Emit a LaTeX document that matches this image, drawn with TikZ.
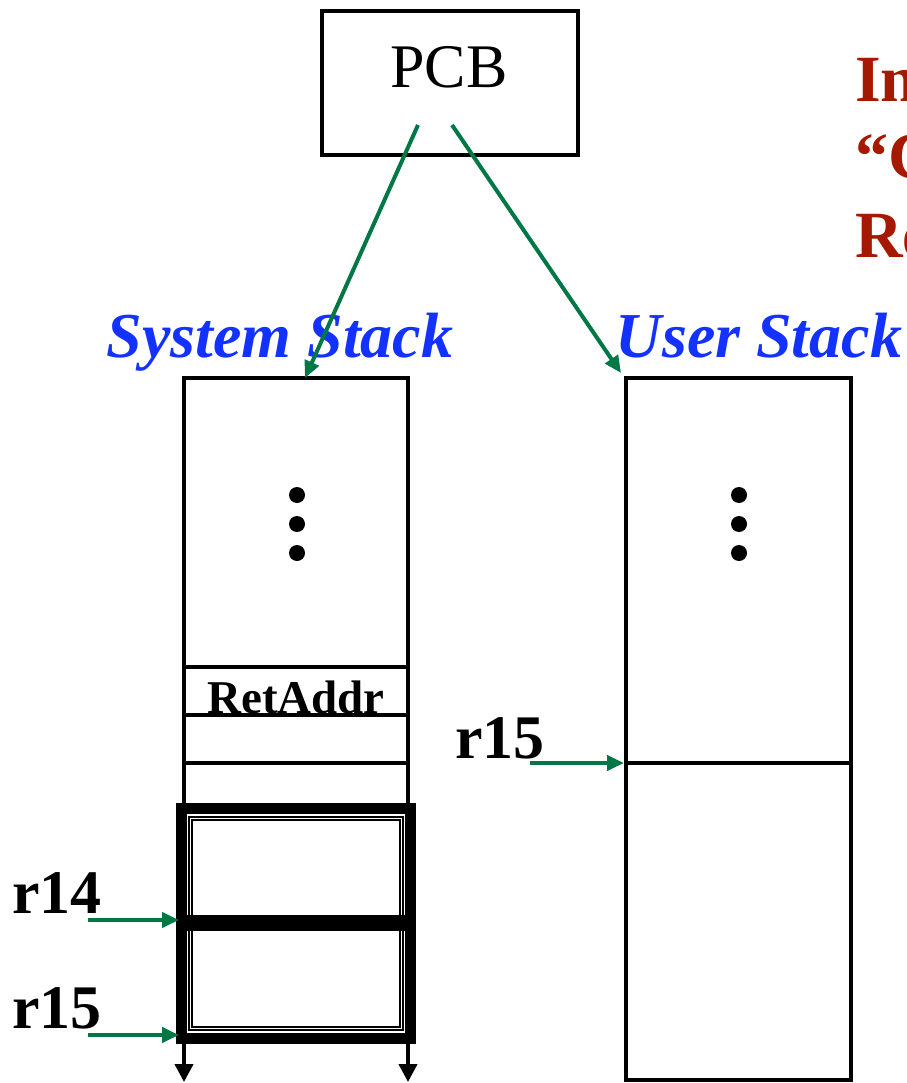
\documentclass[tikz,border=0pt]{standalone}
\usepackage{fontspec}
\setmainfont{Liberation Serif}
\usetikzlibrary{arrows.meta,calc}
\definecolor{arrgreen}{RGB}{0,120,70}
\definecolor{stblue}{RGB}{20,50,255}
\definecolor{dred}{RGB}{165,25,0}
\tikzset{
  stackline/.style={line width=4.5pt, black},
  garrow/.style={line width=4pt, arrgreen, -{Triangle[length=17pt,width=15pt]}},
  downarrow/.style={line width=4pt, black, -{Triangle[length=18pt,width=18pt]}},
  dotmark/.style={circle, fill=black, inner sep=0pt, minimum size=16pt},
  regtext/.style={font=\fontsize{62}{66}\selectfont\bfseries, inner sep=0pt, anchor=base},
  stacktitle/.style={font=\fontsize{64}{68}\selectfont\bfseries\itshape, text=stblue, inner sep=0pt, anchor=base},
  redtext/.style={font=\fontsize{66}{70}\selectfont\bfseries, text=dred, inner sep=0pt, anchor=base west},
}
\begin{document}
\begin{tikzpicture}[x=1pt,y=-1pt]
\useasboundingbox (0,0) rectangle (906,1083);
\clip (0,0) rectangle (906,1083);

% PCB
\node[draw, line width=4.5pt, minimum width=256pt, minimum height=144pt, inner sep=0pt] (pcb) at (450,83) {};
\node[font=\fontsize{62}{66}\selectfont, inner sep=0pt] (pcbtxt) at (449,67) {PCB};
\coordinate (pcbA) at (418,125);
\coordinate (pcbB) at (452,125);

% red text (cut off at right edge, as in the source)
\node[redtext] (red1) at (855,102) {In};
\node[redtext] (red2) at (855,179) {“C};
\node[redtext] (red3) at (855,257) {Re};

% titles
\node[stacktitle] (systitle) at (280,357) {System Stack};
\node[stacktitle] (usrtitle) at (759,357) {User Stack};

% system stack
\draw[stackline] (184,1040) -- (184,378) -- (408,378) -- (408,1040);
\draw[downarrow] (184,1040) -- (184,1082);
\draw[downarrow] (408,1040) -- (408,1082);
\draw[stackline] (184,667) -- (408,667);
\draw[stackline] (184,715) -- (408,715);
\draw[stackline] (184,763) -- (408,763);
\node[dotmark] (sd1) at (297,495) {};
\node[dotmark] (sd2) at (297,524) {};
\node[dotmark] (sd3) at (297,553) {};
\node[font=\fontsize{47}{50}\selectfont\bfseries, inner sep=0pt, anchor=base] (ret) at (296,713) {RetAddr};

% thick frame
\draw[line width=11pt] (181.5,808.5) rectangle (410.5,1038);
\draw[line width=1.5pt] (189,817) rectangle (403,1030);
\draw[line width=1.5pt] (192,820) rectangle (400,1027);
\draw[line width=16pt] (176,923) -- (416,923);
\coordinate (sysR14) at (179,920);
\coordinate (sysR15) at (179,1035);

% user stack
\draw[stackline] (626,378) rectangle (851,1080);
\draw[stackline] (626,763) -- (851,763);
\node[dotmark] (ud1) at (739,495) {};
\node[dotmark] (ud2) at (739,524) {};
\node[dotmark] (ud3) at (739,553) {};
\coordinate (usrTop) at (621,373);
\coordinate (usrR15) at (624,763);
\coordinate (sysTop) at (305,378);

% register labels
\node[regtext] (r14) at (57,913) {r14};
\node[regtext] (r15a) at (57,1028) {r15};
\node[regtext] (r15b) at (500,758) {r15};
\coordinate (r14s) at (88,920);
\coordinate (r15as) at (88,1035);
\coordinate (r15bs) at (530,763);

% green arrows
\draw[garrow] (pcbA) -- (sysTop);
\draw[garrow] (pcbB) -- (usrTop);
\draw[garrow] (r14s) -- (sysR14);
\draw[garrow] (r15as) -- (sysR15);
\draw[garrow] (r15bs) -- (usrR15);
\end{tikzpicture}
\end{document}
